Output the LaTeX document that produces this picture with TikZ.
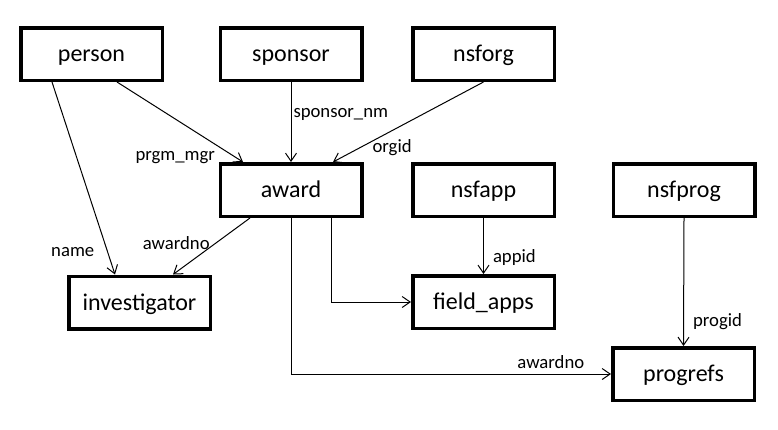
\documentclass[tikz,border=0pt]{standalone}
\usepackage{fontspec}
\setmainfont{Carlito}
\usetikzlibrary{arrows.meta,calc}
\tikzset{tbl/.style={draw=black,line width=3.5pt,minimum width=141.5pt,minimum height=52.5pt,inner sep=0pt,text height=19pt,text depth=4pt,font=\fontsize{24}{28}\selectfont}}
\tikzset{lnk/.style={line width=1pt,-{Straight Barb[length=8pt,width=11pt]}}}
\tikzset{lbl/.style={inner sep=0pt,font=\fontsize{18.7}{22}\selectfont}}

\begin{document}
\begin{tikzpicture}[x=1pt,y=-1pt]
\useasboundingbox (0,0) rectangle (778,429);
\node (person) at (91.5,54) [tbl] {person};
\node (sponsor) at (291,54) [tbl] {sponsor};
\node (nsforg) at (483.5,54) [tbl] {nsforg};
\node (award) at (291,190) [tbl] {award};
\node (nsfapp) at (483.5,190) [tbl] {nsfapp};
\node (nsfprog) at (684,190) [tbl] {nsfprog};
\node (investigator) at (139.5,302.5) [tbl] {investigator};
\node (fieldapps) at (483.5,302) [tbl] {field\_apps};
\node (progrefs) at (683.5,374) [tbl] {progrefs};
\draw[lnk] ([xshift=-39.5pt]person.south) -- ([xshift=-24.5pt]investigator.north) node[lbl,pos=.885,left=13pt] {name};
\draw[lnk] ([xshift=25.5pt]person.south) -- ([xshift=-48pt]award.north) node[lbl,pos=.94,left=20pt] {prgm\_mgr};
\draw[lnk] (sponsor.south) -- (award.north) node[lbl,pos=.41,right=2pt] {sponsor\_nm};
\draw[lnk] (nsforg.south) -- ([xshift=42pt]award.north) node[lbl,pos=.82,right=12pt] {orgid};
\draw[lnk] ([xshift=-41pt]award.south) -- ([xshift=33.5pt]investigator.north) node[lbl,pos=.44,left=6pt] {awardno};
\draw[lnk] ([xshift=40pt]award.south) |- (fieldapps.west);
\draw[lnk] (award.south) |- (progrefs.west) node[lbl,pos=.906,above=5pt] {awardno};
\draw[lnk] (nsfapp.south) -- (fieldapps.north) node[lbl,pos=.71,right=9pt] {appid};
\draw[lnk] (nsfprog.south) -- (progrefs.north) node[lbl,pos=.81,right=9pt] {progid};
\end{tikzpicture}
\end{document}
